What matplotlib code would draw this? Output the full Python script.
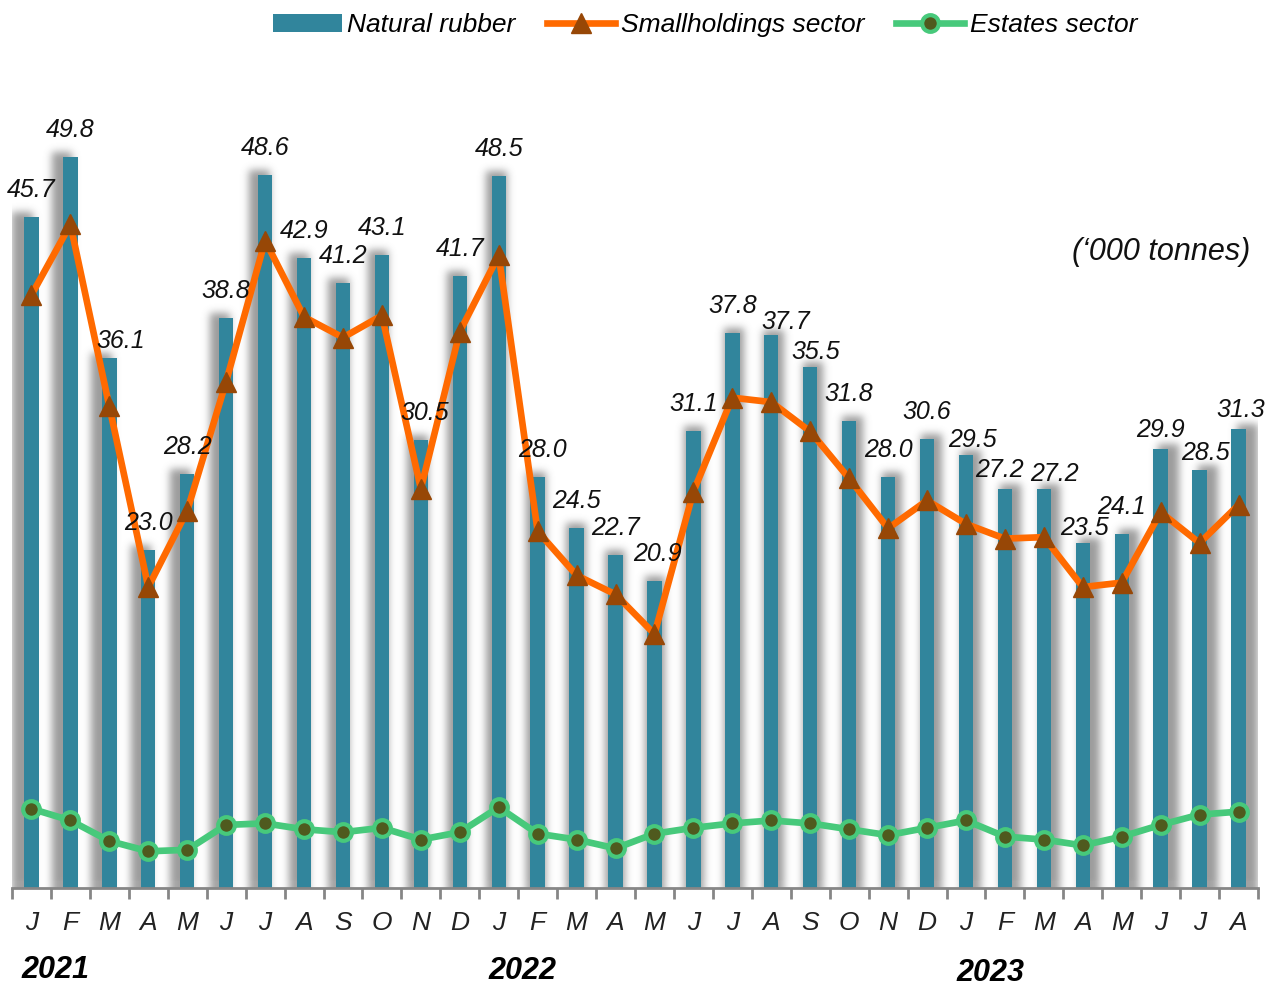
import matplotlib
matplotlib.use("Agg")
import matplotlib.pyplot as plt
from matplotlib.lines import Line2D
from matplotlib.patches import Patch
from matplotlib import font_manager
import numpy as np

months = ["J", "F", "M", "A", "M", "J", "J", "A", "S", "O", "N", "D",
          "J", "F", "M", "A", "M", "J", "J", "A", "S", "O", "N", "D",
          "J", "F", "M", "A", "M", "J", "J", "A"]
years = ["2021", "2022", "2023"]
year_start = [0, 12, 24]

natural_rubber = [45.7, 49.8, 36.1, 23.0, 28.2, 38.8, 48.6, 42.9, 41.2, 43.1, 30.5, 41.7,
                  48.5, 28.0, 24.5, 22.7, 20.9, 31.1, 37.8, 37.7, 35.5, 31.8, 28.0, 30.6,
                  29.5, 27.2, 27.2, 23.5, 24.1, 29.9, 28.5, 31.3]
smallholdings = [40.4, 45.2, 32.8, 20.5, 25.7, 34.5, 44.1, 38.9, 37.5, 39.0, 27.2, 37.9,
                 43.1, 24.3, 21.3, 20.0, 17.3, 27.0, 33.4, 33.1, 31.1, 27.9, 24.5, 26.4,
                 24.8, 23.8, 23.9, 20.5, 20.8, 25.6, 23.5, 26.1]
estates = [5.4, 4.6, 3.2, 2.5, 2.6, 4.3, 4.4, 4.0, 3.8, 4.1, 3.3, 3.8,
           5.5, 3.7, 3.3, 2.7, 3.7, 4.1, 4.4, 4.6, 4.4, 4.0, 3.6, 4.1,
           4.6, 3.5, 3.3, 2.9, 3.5, 4.3, 5.0, 5.2]

# hand-moved data labels in the original (pixels dx, dy)
label_nudge = {2: (11, 10), 19: (14, 14), 26: (11, 12), 27: (2, 12), 20: (5, 12),
               24: (6, 12), 25: (-5, 8), 30: (6, 10), 29: (0, 8), 31: (2, 8),
               10: (4, 0), 16: (3, 0), 13: (5, 0)}

names = {f.name for f in font_manager.fontManager.ttflist}
narrow = "Liberation Sans Narrow" if "Liberation Sans Narrow" in names else "Liberation Sans"
plt.rcParams['font.family'] = ['Liberation Sans', 'DejaVu Sans']

BAR = '#31859C'
ORANGE = '#FF6A00'
BROWN = '#974706'
GREEN = '#47C97B'
OLIVE = '#4F5A1E'
GRAY = '#868686'

W, H = 1246, 828
fig = plt.figure(figsize=(12.78, 9.86), dpi=100)
ax = fig.add_axes([12 / 1278, 98 / 986, W / 1278, H / 986])

n = len(natural_rubber)
x = np.arange(n)
bw = 0.37
px = W / n       # pixels per category
upx = 14.68      # pixels per unit
ymax = H / upx

# blurred perspective shadow behind the bars, built on a pixel grid
xs = -0.5 + (np.arange(W) + 0.5) / px
ys = (np.arange(H) + 0.5) / upx
mask = np.zeros((H, W))
mid = (n - 1) / 2
for i, v in enumerate(natural_rubber):
    off = (i - mid) / mid * 9 / px
    half = (bw / 2) + 3 / px
    cols = (xs >= i + off - half) & (xs <= i + off + half)
    rows = ys <= v + 5 / upx
    mask[np.ix_(rows, cols)] = 1.0
k = np.exp(-0.5 * (np.arange(-12, 13) / 4.0) ** 2)
k /= k.sum()
mask = np.apply_along_axis(lambda r: np.convolve(r, k, mode='same'), 1, mask)
mask = np.apply_along_axis(lambda c: np.convolve(c, k, mode='same'), 0, mask)
mask[:6, :] = mask[6:7, :]
rgba = np.zeros((H, W, 4))
rgba[..., :3] = 0.35
rgba[..., 3] = mask * 0.6
ax.imshow(rgba, extent=(-0.5, n - 0.5, 0, ymax), origin='lower',
          aspect='auto', interpolation='bilinear', zorder=1)

ax.bar(x, natural_rubber, width=bw, color=BAR, linewidth=0, zorder=2)

ax.plot(x, smallholdings, color=ORANGE, lw=4.8, marker='^', markersize=15,
        markerfacecolor=BROWN, markeredgecolor=BROWN, zorder=4)
ax.plot(x, estates, color=GREEN, lw=4.8, marker='o', markersize=12,
        markerfacecolor=OLIVE, markeredgecolor=GREEN, markeredgewidth=3, zorder=4)

for i, v in enumerate(natural_rubber):
    dx, dy = label_nudge.get(i, (0, 0))
    ax.annotate(f"{v:.1f}", (i, v), xytext=(dx * 0.72, (27 - dy) * 0.72),
                textcoords='offset points', ha='center', va='center',
                fontsize=18, style='italic', family=[narrow, 'DejaVu Sans'],
                color='#111111', zorder=5)

ax.set_xlim(-0.5, n - 0.5)
ax.set_ylim(0, ymax)
for s in ['top', 'right', 'left']:
    ax.spines[s].set_visible(False)
ax.spines['bottom'].set_color(GRAY)
ax.spines['bottom'].set_linewidth(2)
ax.set_yticks([])
ax.set_xticks(np.arange(-0.5, n, 1.0))
ax.set_xticklabels([])
ax.tick_params(axis='x', direction='out', length=8, width=2, color=GRAY)

trans = ax.get_xaxis_transform()
for i, m in enumerate(months):
    ax.text(i, -35 / H, m, transform=trans, ha='center', va='center',
            fontsize=19, style='italic', color='#222222')

year_dy = [82, 83, 85]
for s, y, d in zip(year_start, years, year_dy):
    ax.text(s - 0.25, -d / H, y, transform=trans, ha='left', va='center',
            fontsize=22, style='italic', weight='bold', color='black')

fig.text(1250 / 1278, 1 - 252 / 986, "(\u2018000 tonnes)", ha='right', va='center',
         fontsize=22, style='italic', color='#111111')

handles = [
    Patch(facecolor=BAR, edgecolor='none'),
    Line2D([], [], color=ORANGE, lw=4.8, marker='^', markersize=15,
           markerfacecolor=BROWN, markeredgecolor=BROWN),
    Line2D([], [], color=GREEN, lw=4.8, marker='o', markersize=12,
           markerfacecolor=OLIVE, markeredgecolor=GREEN, markeredgewidth=3),
]
fig.legend(handles, ["Natural rubber", "Smallholdings sector", "Estates sector"],
           loc='center', bbox_to_anchor=(705 / 1278, 1 - 25 / 986), ncol=3,
           frameon=False, prop={'size': 19, 'style': 'italic'},
           handlelength=2.6, handletextpad=0.2, columnspacing=1.2)

plt.savefig('out.png', dpi=100)
plt.close('all')
